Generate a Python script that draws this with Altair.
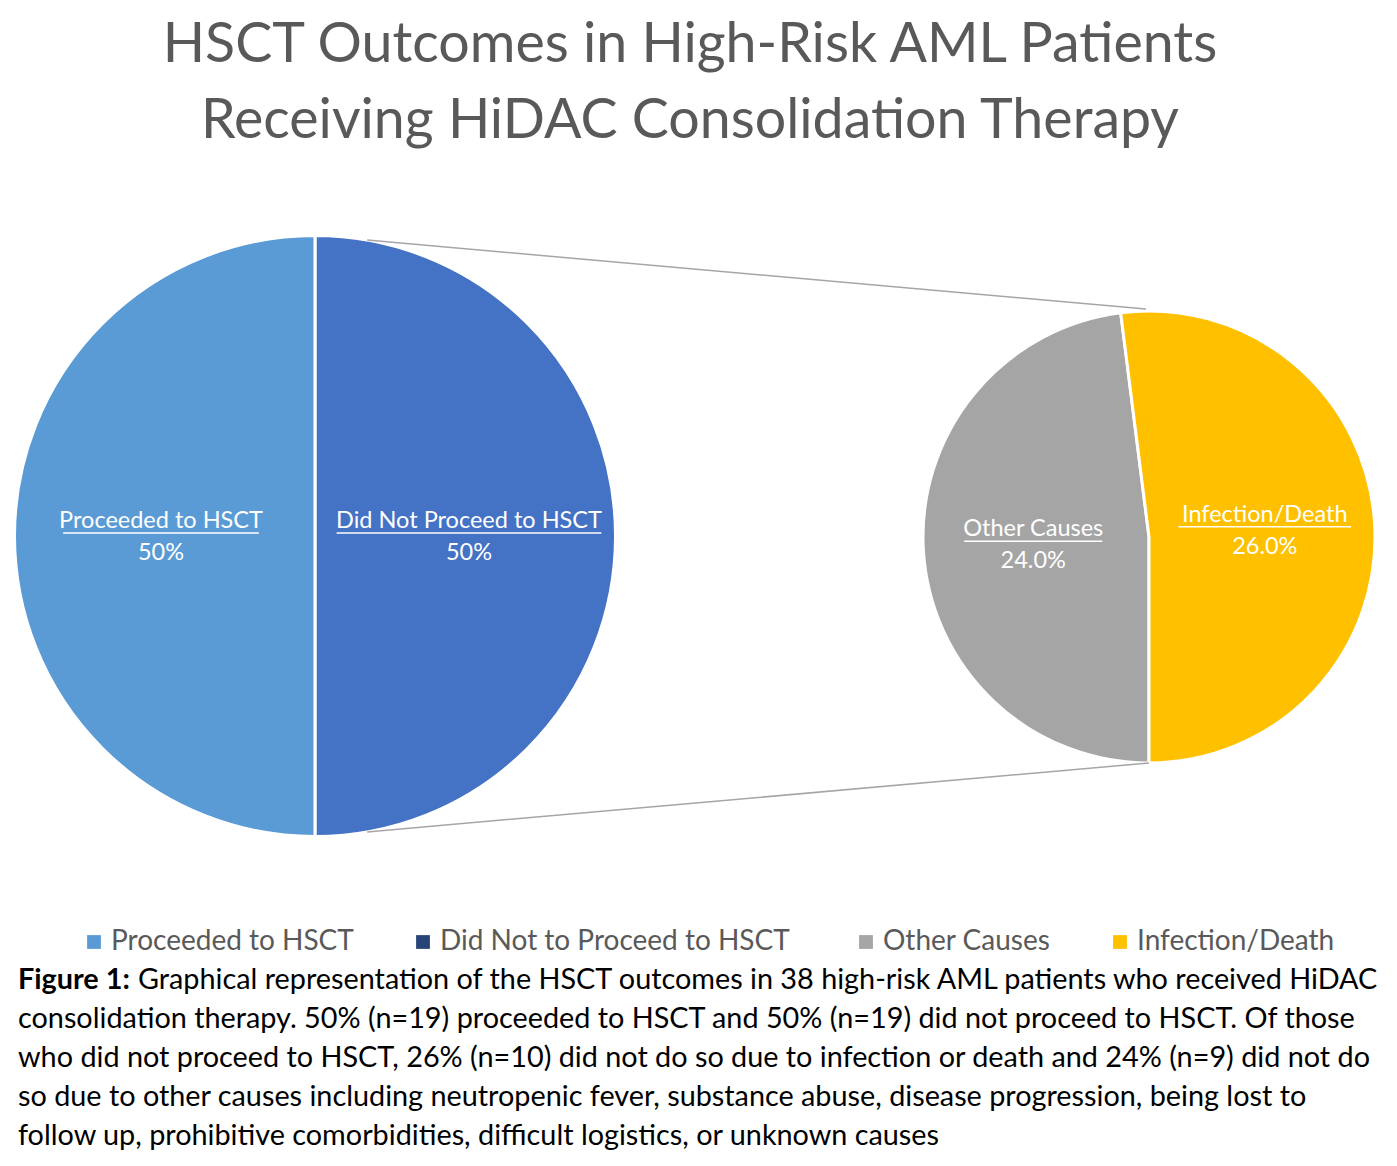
import math
import altair as alt
import pandas as pd

# ---------------- data ----------------
title_lines = ["HSCT Outcomes in High-Risk AML Patients",
               "Receiving HiDAC Consolidation Therapy"]

main_labels = ["Did Not Proceed to HSCT", "Proceeded to HSCT"]
main_values = [50, 50]
main_pct = ["50%", "50%"]
main_colors = ["#4472C4", "#5B9BD5"]

sub_labels = ["Other Causes", "Infection/Death"]
sub_values = [24.0, 26.0]
sub_pct = ["24.0%", "26.0%"]
sub_colors = ["#A5A5A5", "#FFC000"]

legend_labels = ["Proceeded to HSCT", "Did Not to Proceed to  HSCT",
                 "Other Causes", "Infection/Death"]
legend_colors = ["#5B9BD5", "#264478", "#A5A5A5", "#FFC000"]

caption_bold = "Figure 1:"
caption_first_rest = ("Graphical representation of the HSCT outcomes in 38 high-risk "
                      "AML patients who received HiDAC")
caption_lines = [
    "consolidation therapy. 50% (n=19) proceeded to HSCT and 50% (n=19) did not proceed to HSCT. Of those",
    "who did not proceed to HSCT, 26% (n=10) did not do so due to infection or death and 24% (n=9) did not do",
    "so due to other causes including neutropenic fever, substance abuse, disease progression, being lost to",
    "follow up, prohibitive comorbidities, difficult logistics, or unknown causes",
]

# ---------------- layout ----------------
W, H = 1381, 1150
FONT = "Lato"
MAIN_CX, MAIN_CY, MAIN_R = 305, 528, 300.5
SUB_CX, SUB_CY, SUB_R = 1139, 529, 226
MAIN_START = 0.0
SUB_START = math.pi
LABEL_FS = 23.5
CHAR_W = 0.49
CAP_FS = 28.8


def pie_frame(labels, values, pct, colors, cx, cy, r_lab, start):
    total = float(sum(values))
    rows, cum = [], 0.0
    for i, (lab, v, p, c) in enumerate(zip(labels, values, pct, colors)):
        mid = start + 2 * math.pi * (cum + v / 2.0) / total
        cum += v
        lx = cx + r_lab * math.sin(mid)
        ly = cy - r_lab * math.cos(mid)
        uw = len(lab) * LABEL_FS * CHAR_W
        rows.append(dict(idx=i, label=lab, value=v, pct=p, color=c,
                         lx=lx, ly_name=ly - 8, ly_pct=ly + 24,
                         ux1=lx - uw / 2, ux2=lx + uw / 2, uy=ly - 3))
    return pd.DataFrame(rows)


main_df = pie_frame(main_labels, main_values, main_pct, main_colors,
                    MAIN_CX, MAIN_CY, 154, MAIN_START)
sub_df = pie_frame(sub_labels, sub_values, sub_pct, sub_colors,
                   SUB_CX, SUB_CY, 116, SUB_START)


def pie_layers(df, cx, cy, r, start):
    base = alt.Chart(df)
    arc = base.mark_arc(radius=r, stroke="white", strokeWidth=3).encode(
        theta=alt.Theta("value:Q", stack=True,
                        scale=alt.Scale(range=[start, start + 2 * math.pi])),
        order=alt.Order("idx:Q"),
        fill=alt.Fill("color:N", scale=None),
        x=alt.value(cx), y=alt.value(cy),
    )
    name = base.mark_text(fontSize=LABEL_FS, font=FONT, color="white",
                          align="center", baseline="alphabetic").encode(
        x=alt.X("lx:Q", scale=None, axis=None),
        y=alt.Y("ly_name:Q", scale=None, axis=None),
        text="label:N")
    pct = base.mark_text(fontSize=LABEL_FS, font=FONT, color="white",
                         align="center", baseline="alphabetic").encode(
        x=alt.X("lx:Q", scale=None, axis=None),
        y=alt.Y("ly_pct:Q", scale=None, axis=None),
        text="pct:N")
    under = base.mark_rule(color="white", strokeWidth=1.5).encode(
        x=alt.X("ux1:Q", scale=None, axis=None), x2="ux2:Q",
        y=alt.Y("uy:Q", scale=None, axis=None))
    return arc, name, pct, under


main_layers = pie_layers(main_df, MAIN_CX, MAIN_CY, MAIN_R, MAIN_START)
sub_layers = pie_layers(sub_df, SUB_CX, SUB_CY, SUB_R, SUB_START)

one = pd.DataFrame({"a": [0]})
a = math.radians(10)
top_x1 = MAIN_CX + MAIN_R * math.sin(a)
top_y1 = MAIN_CY - MAIN_R * math.cos(a)
bot_y1 = MAIN_CY + MAIN_R * math.cos(a)
conn_top = alt.Chart(one).mark_rule(color="#A6A6A6", strokeWidth=1.5).encode(
    x=alt.value(top_x1), y=alt.value(top_y1),
    x2=alt.value(SUB_CX - 3), y2=alt.value(SUB_CY - SUB_R - 2))
conn_bot = alt.Chart(one).mark_rule(color="#A6A6A6", strokeWidth=1.5).encode(
    x=alt.value(top_x1), y=alt.value(bot_y1),
    x2=alt.value(SUB_CX), y2=alt.value(SUB_CY + SUB_R))

title = alt.Chart(one).mark_text(text=title_lines, fontSize=55.5, lineHeight=76,
                                 font=FONT, color="#595959", align="center",
                                 baseline="alphabetic").encode(
    x=alt.value(680), y=alt.value(54))

cap_bold = alt.Chart(one).mark_text(text=caption_bold, fontSize=CAP_FS, font=FONT,
                                    fontWeight="bold", color="black",
                                    align="left", baseline="alphabetic").encode(
    x=alt.value(8), y=alt.value(981))
cap_first = alt.Chart(one).mark_text(text=caption_first_rest, fontSize=CAP_FS, font=FONT,
                                     color="black", align="left",
                                     baseline="alphabetic").encode(
    x=alt.value(128), y=alt.value(981))
cap_rest = alt.Chart(one).mark_text(text=caption_lines, fontSize=CAP_FS, font=FONT,
                                    lineHeight=39, color="black", align="left",
                                    baseline="alphabetic").encode(
    x=alt.value(8), y=alt.value(1020))

legend_df = pd.DataFrame({"label": legend_labels})
legend_layer = alt.Chart(legend_df).mark_square(opacity=0, size=1).encode(
    x=alt.value(600), y=alt.value(600),
    color=alt.Color("label:N",
                    scale=alt.Scale(domain=legend_labels, range=legend_colors),
                    legend=alt.Legend(title=None, orient="none", legendX=70, legendY=920,
                                      direction="horizontal", symbolType="square",
                                      symbolSize=190, symbolOpacity=1,
                                      labelFontSize=28, labelFont=FONT,
                                      labelColor="#595959", columnPadding=55,
                                      labelOffset=3, labelLimit=600)))

chart = alt.layer(
    *main_layers[:1], *sub_layers[:1], conn_top, conn_bot,
    *main_layers[1:], *sub_layers[1:],
    title, cap_bold, cap_first, cap_rest, legend_layer,
).resolve_scale(theta="independent").properties(
    width=W, height=H, padding=0, background="white",
    autosize=alt.AutoSizeParams(type="fit", contains="padding"),
).configure_view(stroke=None)

chart.save("out.html", embed_options={"renderer": "svg", "actions": False})
